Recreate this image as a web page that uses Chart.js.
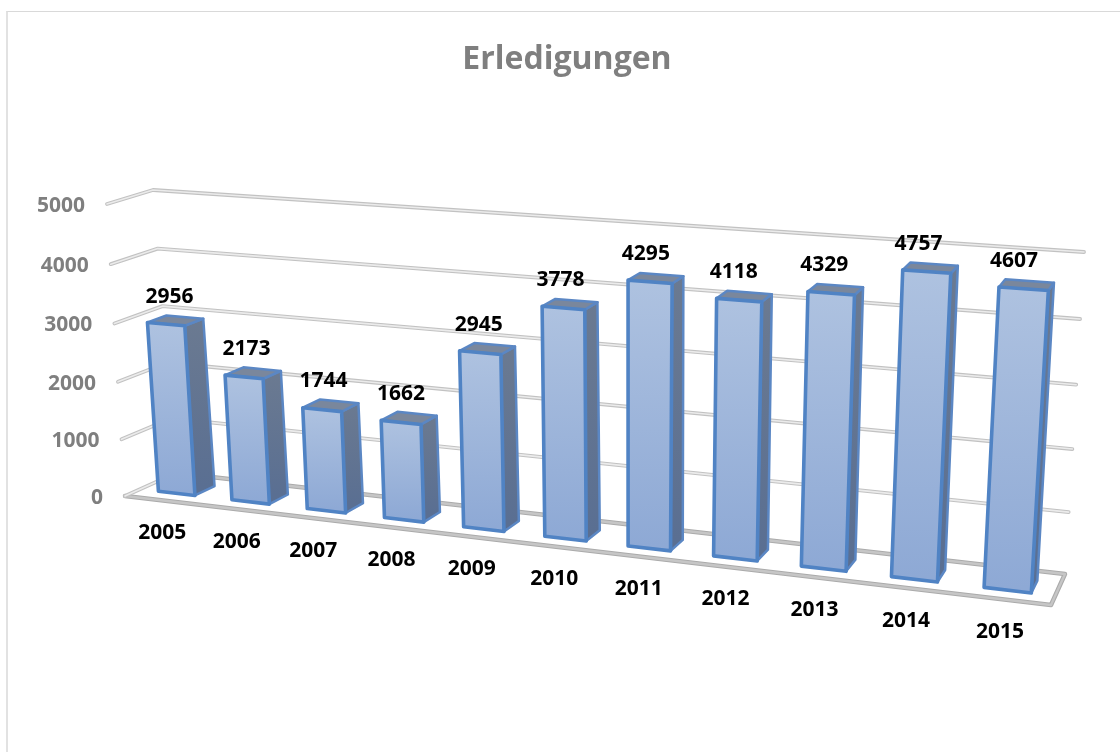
<!DOCTYPE html>
<html>
<head>
<meta charset="utf-8">
<title>Erledigungen</title>
<script src="https://cdn.jsdelivr.net/npm/chart.js@4"></script>
<style>
html, body { margin: 0; padding: 0; background: #fff; overflow: hidden; }
#frame { position: absolute; left: 6px; top: 11px; width: 1130px; height: 760px; border-left: 2px solid #e2e2e2; border-top: 1px solid #d9d9d9; }
#chart { position: absolute; left: 0; top: 0; }
</style>
</head>
<body>
<div id="frame"></div>
<canvas id="chart" width="1120" height="752"></canvas>
<script>
const years = ['2005', '2006', '2007', '2008', '2009', '2010', '2011', '2012', '2013', '2014', '2015'];
const erledigungen = [2956, 2173, 1744, 1662, 2945, 3778, 4295, 4118, 4329, 4757, 4607];
const yMax = 5000;
const yStep = 1000;

// the 3d box as seen in the picture: [bottom-left, bottom-right, top-right, top-left]
const frontWall = [[125, 496], [1051, 605], [1071, 271], [107, 204]];
const backWall = [[176, 473], [1065, 574], [1084, 252], [153, 190]];
const barDepth = [0.3, 0.7];
const labelFont = 'bold 21px "Open Sans"';

// unit square -> quad (plain projective mapping)
function makeHomography(q) {
  const [p0, p1, p2, p3] = q;
  const dx1 = p1[0] - p2[0], dx2 = p3[0] - p2[0], sx = p0[0] - p1[0] + p2[0] - p3[0];
  const dy1 = p1[1] - p2[1], dy2 = p3[1] - p2[1], sy = p0[1] - p1[1] + p2[1] - p3[1];
  const det = dx1 * dy2 - dx2 * dy1;
  const g = (sx * dy2 - dx2 * sy) / det;
  const h = (dx1 * sy - sx * dy1) / det;
  const a = p1[0] - p0[0] + g * p1[0], b = p3[0] - p0[0] + h * p3[0], c = p0[0];
  const d = p1[1] - p0[1] + g * p1[1], e = p3[1] - p0[1] + h * p3[1], f = p0[1];
  return (u, v) => {
    const n = g * u + h * v + 1;
    return [(a * u + b * v + c) / n, (d * u + e * v + f) / n];
  };
}
const front = makeHomography(frontWall);
const back = makeHomography(backWall);

function project(u, v, w) {
  const p = front(u, v), q = back(u, v);
  return [p[0] + (q[0] - p[0]) * w, p[1] + (q[1] - p[1]) * w];
}

function poly(ctx, pts) {
  ctx.beginPath();
  pts.forEach((p, i) => i ? ctx.lineTo(p[0], p[1]) : ctx.moveTo(p[0], p[1]));
}

function doubleLine(ctx, pts, outer, inner, width) {
  ctx.lineJoin = 'round';
  ctx.lineCap = 'round';
  poly(ctx, pts);
  ctx.strokeStyle = outer;
  ctx.lineWidth = width;
  ctx.stroke();
  poly(ctx, pts);
  ctx.strokeStyle = inner;
  ctx.lineWidth = width - 2.2;
  ctx.stroke();
}

const box3d = {
  id: 'box3d',
  beforeDatasetsDraw(chart) {
    const ctx = chart.ctx, area = chart.chartArea, yScale = chart.scales.y;
    const toV = y => (area.bottom - y) / (area.bottom - area.top);
    ctx.save();
    // floor first, then the grid lines and their value labels
    doubleLine(ctx, [project(0, 0, 1), project(1, 0, 1), project(1, 0, 0), project(0, 0, 0)], '#ababab', '#c6c6c6', 4.5);
    yScale.ticks.forEach(t => {
      const v = toV(yScale.getPixelForValue(t.value));
      const a = project(0, v, 0);
      if (t.value > 0) doubleLine(ctx, [a, project(0, v, 1), project(1, v, 1)], '#c2c2c2', '#ebebeb', 3.8);
      else doubleLine(ctx, [a, project(0, v, 1)], '#c2c2c2', '#ebebeb', 3.8);
      ctx.font = labelFont;
      ctx.fillStyle = '#7f7f7f';
      ctx.textAlign = 'right';
      ctx.textBaseline = 'middle';
      ctx.fillText(String(t.value), a[0] - 22, a[1] + 2);
    });
    ctx.restore();
  },
  afterDatasetsDraw(chart) {
    const ctx = chart.ctx, area = chart.chartArea;
    const toU = x => (x - area.left) / (area.right - area.left);
    const toV = y => (area.bottom - y) / (area.bottom - area.top);
    const w0 = barDepth[0], w1 = barDepth[1];
    ctx.save();
    ctx.lineJoin = 'round';
    chart.getDatasetMeta(0).data.forEach((bar, i) => {
      const uMid = toU(bar.x);
      const u0 = toU(bar.x - bar.width / 2), u1 = toU(bar.x + bar.width / 2);
      const v = toV(bar.y);
      const fbl = project(u0, 0, w0), fbr = project(u1, 0, w0), ftr = project(u1, v, w0), ftl = project(u0, v, w0);
      const bbr = project(u1, 0, w1), btr = project(u1, v, w1), btl = project(u0, v, w1);

      const side = ctx.createLinearGradient(0, btr[1], 0, bbr[1]);
      side.addColorStop(0, '#6b7a91');
      side.addColorStop(1, '#5a6f92');
      poly(ctx, [fbr, bbr, btr, ftr]);
      ctx.closePath();
      ctx.fillStyle = side;
      ctx.fill();
      ctx.strokeStyle = '#5b87c4';
      ctx.lineWidth = 2.5;
      ctx.stroke();

      poly(ctx, [ftl, ftr, btr, btl]);
      ctx.closePath();
      ctx.fillStyle = '#7a879c';
      ctx.fill();
      ctx.stroke();

      const face = ctx.createLinearGradient(0, ftl[1], 0, fbl[1]);
      face.addColorStop(0, '#aec2e0');
      face.addColorStop(1, '#8ea9d5');
      poly(ctx, [fbl, fbr, ftr, ftl]);
      ctx.closePath();
      ctx.fillStyle = face;
      ctx.fill();
      ctx.strokeStyle = '#5083c4';
      ctx.lineWidth = 3.6;
      ctx.stroke();

      ctx.font = labelFont;
      ctx.fillStyle = '#000';
      ctx.textAlign = 'center';
      ctx.textBaseline = 'middle';
      const top = project(uMid, v, 0.5);
      ctx.fillText(String(erledigungen[i]), top[0] - 5.5 - 7.5 * uMid, top[1] - 24);
      const foot = project(uMid, -0.1, 0);
      ctx.fillText(years[i], foot[0] - 1, foot[1] + 4.5 - 3.5 * uMid);
    });
    ctx.restore();
  }
};

new Chart(document.getElementById('chart').getContext('2d'), {
  type: 'bar',
  data: {
    labels: years,
    datasets: [{
      data: erledigungen,
      backgroundColor: 'transparent',
      borderWidth: 0,
      barPercentage: 0.5,
      categoryPercentage: 1
    }]
  },
  options: {
    responsive: false,
    animation: false,
    layout: { padding: { left: 14, top: 41, right: 0, bottom: 100 } },
    plugins: {
      legend: { display: false },
      tooltip: { enabled: false },
      title: {
        display: true,
        text: 'Erledigungen',
        color: '#7f7f7f',
        font: { family: '"Open Sans"', size: 32, weight: 'bold' },
        padding: { top: 0, bottom: 40 }
      }
    },
    scales: {
      x: { display: false },
      y: { display: false, min: 0, max: yMax, ticks: { stepSize: yStep } }
    }
  },
  plugins: [box3d]
});
</script>
</body>
</html>
